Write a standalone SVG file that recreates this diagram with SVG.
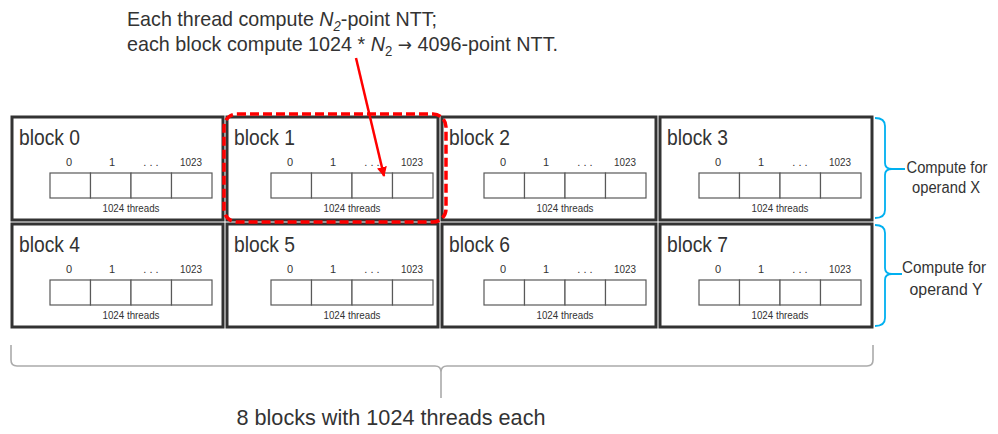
<svg xmlns="http://www.w3.org/2000/svg" width="998" height="434" viewBox="0 0 998 434">
<defs>
<style>
text{font-family:"Liberation Sans",Arial,sans-serif;fill:#333;}
.blk{fill:#fff;stroke:#333;stroke-width:3;}
.cell{fill:#fff;stroke:#595959;stroke-width:1.2;}
.bl{font-size:22px;}
.ix{font-size:11px;text-anchor:middle;}
.th{font-size:11px;text-anchor:middle;}
.big{font-size:21px;}
.side{font-size:16px;text-anchor:middle;}
.brace{fill:none;stroke:#00B0F0;stroke-width:1.8;}
</style>
<marker id="ah" viewBox="0 0 10 10" refX="9" refY="5" markerWidth="4" markerHeight="4" orient="auto" markerUnits="strokeWidth">
<path d="M0,0 L10,5 L0,10 z" fill="#FF0000"/>
</marker>
</defs>
<rect width="998" height="434" fill="#fff"/>

<g id="title">
<text class="big" x="127" y="26" textLength="310" lengthAdjust="spacingAndGlyphs">Each thread compute <tspan font-style="italic">N</tspan><tspan font-size="14" font-style="italic" dy="5">2</tspan><tspan dy="-5">-point NTT;</tspan></text>
<text class="big" x="127" y="51" textLength="431" lengthAdjust="spacingAndGlyphs">each block compute 1024 * <tspan font-style="italic">N</tspan><tspan font-size="14" dy="5">2</tspan><tspan dy="-5"> </tspan><tspan font-family="DejaVu Sans, sans-serif" font-size="18">→</tspan><tspan> 4096-point NTT.</tspan></text>
</g>

<g id="block0">
<rect class="blk" x="12" y="117" width="211" height="103"/>
<text class="bl" x="19" y="145" textLength="61" lengthAdjust="spacingAndGlyphs">block 0</text>
<text class="ix" x="69" y="166">0</text><text class="ix" x="112" y="166">1</text><text class="ix" x="151" y="166">. . .</text><text class="ix" x="191" y="166" textLength="22" lengthAdjust="spacingAndGlyphs">1023</text>
<rect class="cell" x="50" y="173" width="40.5" height="25"/><rect class="cell" x="90.5" y="173" width="40.5" height="25"/><rect class="cell" x="131" y="173" width="40.5" height="25"/><rect class="cell" x="171.5" y="173" width="40.5" height="25"/>
<text class="th" x="131" y="212" textLength="57" lengthAdjust="spacingAndGlyphs">1024 threads</text>
</g>

<g id="block1">
<rect class="blk" x="227" y="117" width="211" height="103"/>
<text class="bl" x="234" y="145" textLength="61" lengthAdjust="spacingAndGlyphs">block 1</text>
<text class="ix" x="290" y="166">0</text><text class="ix" x="333" y="166">1</text><text class="ix" x="372" y="166">. . .</text><text class="ix" x="412" y="166" textLength="22" lengthAdjust="spacingAndGlyphs">1023</text>
<rect class="cell" x="271" y="173" width="40.5" height="25"/><rect class="cell" x="311.5" y="173" width="40.5" height="25"/><rect class="cell" x="352" y="173" width="40.5" height="25"/><rect class="cell" x="392.5" y="173" width="40.5" height="25"/>
<text class="th" x="352" y="212" textLength="57" lengthAdjust="spacingAndGlyphs">1024 threads</text>
</g>

<g id="block2">
<rect class="blk" x="442" y="117" width="214" height="103"/>
<text class="bl" x="449" y="145" textLength="61" lengthAdjust="spacingAndGlyphs">block 2</text>
<text class="ix" x="503" y="166">0</text><text class="ix" x="546" y="166">1</text><text class="ix" x="585" y="166">. . .</text><text class="ix" x="625" y="166" textLength="22" lengthAdjust="spacingAndGlyphs">1023</text>
<rect class="cell" x="484" y="173" width="40.5" height="25"/><rect class="cell" x="524.5" y="173" width="40.5" height="25"/><rect class="cell" x="565" y="173" width="40.5" height="25"/><rect class="cell" x="605.5" y="173" width="40.5" height="25"/>
<text class="th" x="565" y="212" textLength="57" lengthAdjust="spacingAndGlyphs">1024 threads</text>
</g>

<g id="block3">
<rect class="blk" x="660" y="117" width="212" height="103"/>
<text class="bl" x="667" y="145" textLength="61" lengthAdjust="spacingAndGlyphs">block 3</text>
<text class="ix" x="718" y="166">0</text><text class="ix" x="761" y="166">1</text><text class="ix" x="800" y="166">. . .</text><text class="ix" x="840" y="166" textLength="22" lengthAdjust="spacingAndGlyphs">1023</text>
<rect class="cell" x="699" y="173" width="40.5" height="25"/><rect class="cell" x="739.5" y="173" width="40.5" height="25"/><rect class="cell" x="780" y="173" width="40.5" height="25"/><rect class="cell" x="820.5" y="173" width="40.5" height="25"/>
<text class="th" x="780" y="212" textLength="57" lengthAdjust="spacingAndGlyphs">1024 threads</text>
</g>

<g id="block4">
<rect class="blk" x="12" y="224" width="211" height="103"/>
<text class="bl" x="19" y="252" textLength="61" lengthAdjust="spacingAndGlyphs">block 4</text>
<text class="ix" x="69" y="273">0</text><text class="ix" x="112" y="273">1</text><text class="ix" x="151" y="273">. . .</text><text class="ix" x="191" y="273" textLength="22" lengthAdjust="spacingAndGlyphs">1023</text>
<rect class="cell" x="50" y="280" width="40.5" height="25"/><rect class="cell" x="90.5" y="280" width="40.5" height="25"/><rect class="cell" x="131" y="280" width="40.5" height="25"/><rect class="cell" x="171.5" y="280" width="40.5" height="25"/>
<text class="th" x="131" y="319" textLength="57" lengthAdjust="spacingAndGlyphs">1024 threads</text>
</g>

<g id="block5">
<rect class="blk" x="227" y="224" width="211" height="103"/>
<text class="bl" x="234" y="252" textLength="61" lengthAdjust="spacingAndGlyphs">block 5</text>
<text class="ix" x="290" y="273">0</text><text class="ix" x="333" y="273">1</text><text class="ix" x="372" y="273">. . .</text><text class="ix" x="412" y="273" textLength="22" lengthAdjust="spacingAndGlyphs">1023</text>
<rect class="cell" x="271" y="280" width="40.5" height="25"/><rect class="cell" x="311.5" y="280" width="40.5" height="25"/><rect class="cell" x="352" y="280" width="40.5" height="25"/><rect class="cell" x="392.5" y="280" width="40.5" height="25"/>
<text class="th" x="352" y="319" textLength="57" lengthAdjust="spacingAndGlyphs">1024 threads</text>
</g>

<g id="block6">
<rect class="blk" x="442" y="224" width="214" height="103"/>
<text class="bl" x="449" y="252" textLength="61" lengthAdjust="spacingAndGlyphs">block 6</text>
<text class="ix" x="503" y="273">0</text><text class="ix" x="546" y="273">1</text><text class="ix" x="585" y="273">. . .</text><text class="ix" x="625" y="273" textLength="22" lengthAdjust="spacingAndGlyphs">1023</text>
<rect class="cell" x="484" y="280" width="40.5" height="25"/><rect class="cell" x="524.5" y="280" width="40.5" height="25"/><rect class="cell" x="565" y="280" width="40.5" height="25"/><rect class="cell" x="605.5" y="280" width="40.5" height="25"/>
<text class="th" x="565" y="319" textLength="57" lengthAdjust="spacingAndGlyphs">1024 threads</text>
</g>

<g id="block7">
<rect class="blk" x="660" y="224" width="212" height="103"/>
<text class="bl" x="667" y="252" textLength="61" lengthAdjust="spacingAndGlyphs">block 7</text>
<text class="ix" x="718" y="273">0</text><text class="ix" x="761" y="273">1</text><text class="ix" x="800" y="273">. . .</text><text class="ix" x="840" y="273" textLength="22" lengthAdjust="spacingAndGlyphs">1023</text>
<rect class="cell" x="699" y="280" width="40.5" height="25"/><rect class="cell" x="739.5" y="280" width="40.5" height="25"/><rect class="cell" x="780" y="280" width="40.5" height="25"/><rect class="cell" x="820.5" y="280" width="40.5" height="25"/>
<text class="th" x="780" y="319" textLength="57" lengthAdjust="spacingAndGlyphs">1024 threads</text>
</g>

<g id="highlight">
<rect x="224" y="114" width="222" height="108" rx="13" fill="none" stroke="#FF0000" stroke-width="3.5" stroke-dasharray="9 4"/>
</g>

<g id="operandX">
<path class="brace" d="M875,118 Q885,118 885,126 L885,163 Q885,169 892,169 L905,169 M892,169 Q885,169 885,175 L885,210 Q885,218 875,218"/>
<text class="side" x="947" y="173" textLength="81" lengthAdjust="spacingAndGlyphs">Compute for</text>
<text class="side" x="946" y="193" textLength="68" lengthAdjust="spacingAndGlyphs">operand X</text>
</g>

<g id="operandY">
<path class="brace" d="M875,225 Q885,225 885,233 L885,268 Q885,274 892,274 L902,274 M892,274 Q885,274 885,280 L885,318 Q885,326 875,326"/>
<text class="side" x="944" y="273" textLength="84" lengthAdjust="spacingAndGlyphs">Compute for</text>
<text class="side" x="946" y="295" textLength="73" lengthAdjust="spacingAndGlyphs">operand Y</text>
</g>

<g id="total">
<path d="M11,345 L11,360 Q11,366 17,366 L435,366 Q441,366 441,372 L441,398 M441,372 Q441,366 447,366 L867,366 Q873,366 873,360 L873,345" fill="none" stroke="#ABABAB" stroke-width="1.6"/>
<text x="391" y="425" font-size="22" text-anchor="middle" textLength="309" lengthAdjust="spacingAndGlyphs">8 blocks with 1024 threads each</text>
</g>

<g id="connectors">
<line x1="356" y1="58" x2="384" y2="176" stroke="#FF0000" stroke-width="2.5" marker-end="url(#ah)"/>
</g>
</svg>
